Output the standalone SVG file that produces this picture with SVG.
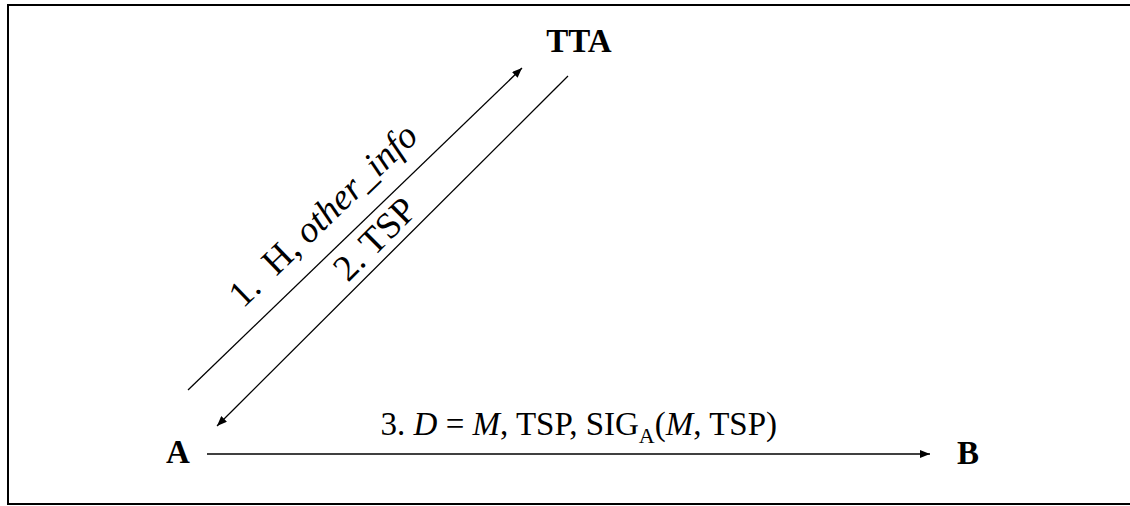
<svg xmlns="http://www.w3.org/2000/svg" width="1130" height="506" viewBox="0 0 1130 506">
<style>
.node{font-family:"Liberation Serif","Times New Roman",serif;font-weight:bold;font-size:33px;fill:#000}
.lbl{font-family:"Liberation Serif","Times New Roman",serif;font-size:33px;fill:#000}
.dl{font-family:"Liberation Serif","Times New Roman",serif;font-size:37px;fill:#000}
.it{font-style:italic}
.conn{stroke:#000;stroke-width:1.3;fill:none;marker-end:url(#ah)}
</style>
<defs>
<marker id="ah" viewBox="0 0 10 8" refX="10" refY="4" markerWidth="10" markerHeight="8" markerUnits="userSpaceOnUse" orient="auto">
<path d="M0,0 L10,4 L0,8 Z" fill="#000"/>
</marker>
</defs>
<rect x="0" y="0" width="1130" height="506" fill="#fff"/>
<rect x="8" y="5" width="1130" height="499" fill="none" stroke="#000" stroke-width="2"/>
<g id="node-TTA"><text class="node" x="579" y="52" text-anchor="middle">TTA</text></g>
<g id="node-A"><text class="node" x="178" y="463" text-anchor="middle">A</text></g>
<g id="node-B"><text class="node" x="968" y="464" text-anchor="middle">B</text></g>
<g id="connectors">
<line class="conn" x1="188" y1="390" x2="522" y2="68"/>
<line class="conn" x1="568" y1="76" x2="217" y2="426"/>
<line class="conn" x1="207" y1="454" x2="930" y2="454"/>
<text class="dl" transform="translate(243,309) rotate(-44)">1.&#160; H, <tspan class="it">other_info</tspan></text>
<text class="dl" font-size="36" transform="translate(348,283) rotate(-45)">2. TSP</text>
<text class="lbl" x="777" y="435" text-anchor="end">3. <tspan class="it">D</tspan> = <tspan class="it">M</tspan>, TSP, SIG<tspan font-size="22" dy="8">A</tspan><tspan dy="-8">(</tspan><tspan class="it">M</tspan>, TSP)</text>
</g>
</svg>
